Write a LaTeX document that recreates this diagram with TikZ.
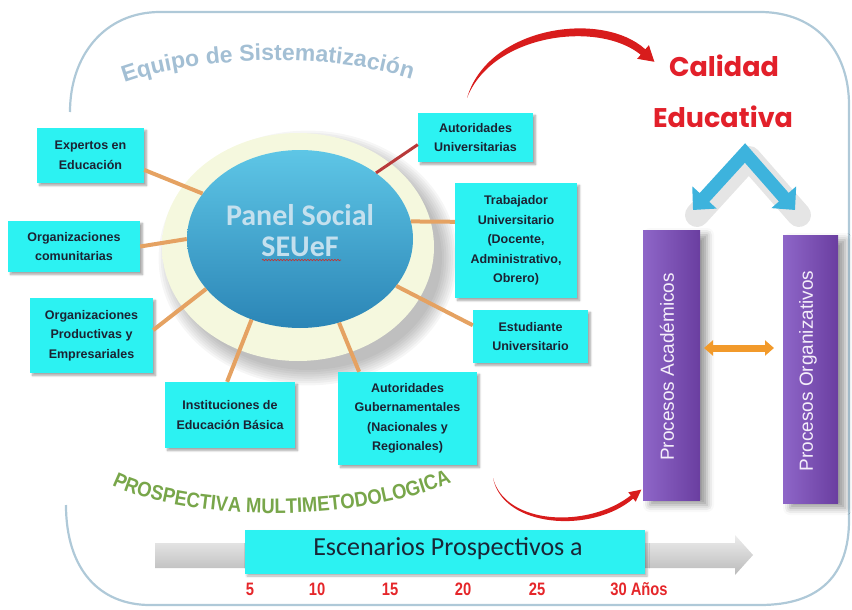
\documentclass[tikz,border=0pt]{standalone}
\usepackage{fontspec}
\setmainfont{Liberation Sans}
\newfontfamily\carl{Carlito}
\newfontfamily\popp{Poppins}
\newfontfamily\narrow[FakeStretch=0.82]{Liberation Sans}
\newfontfamily\prosp[FakeStretch=0.88]{Liberation Sans}
\usetikzlibrary{shapes.geometric,arrows.meta,shadows.blur,decorations.text,decorations.pathmorphing,calc}
\definecolor{cyanbox}{HTML}{2CF2F2}
\definecolor{boxtext}{HTML}{1C2333}
\definecolor{linkorange}{HTML}{E5A262}
\definecolor{linkred}{HTML}{B83A3A}
\definecolor{panelTop}{HTML}{5EC6E6}
\definecolor{panelBot}{HTML}{2B85B6}
\definecolor{paneltext}{HTML}{C4E0EE}
\definecolor{haloA}{HTML}{F5F8DE}
\definecolor{haloB}{HTML}{DCE7B2}
\definecolor{haloC}{HTML}{F0F3E2}
\definecolor{equipo}{HTML}{A3BFD4}
\definecolor{progreen}{HTML}{78A64A}
\definecolor{calred}{HTML}{E2202A}
\definecolor{numred}{HTML}{E5262A}
\definecolor{barL}{HTML}{8E66C8}
\definecolor{barR}{HTML}{6A3EA0}
\definecolor{bartext}{HTML}{F4EEFA}
\definecolor{chev}{HTML}{3DB3DD}
\definecolor{arrorange}{HTML}{F29A2B}
\definecolor{framecol}{HTML}{AFC9D8}
\definecolor{arcred}{HTML}{D81C1C}
\definecolor{esctext}{HTML}{1A2636}
\pgfdeclareradialshading{haloshade}{\pgfpointorigin}{color(0bp)=(haloA); color(36bp)=(haloA); color(45bp)=(haloB); color(50bp)=(haloC)}
\tikzset{
  box/.style={fill=cyanbox, font=\fontsize{12.5}{19.5}\selectfont\bfseries, text=boxtext,
    align=center, inner sep=2pt,
    blur shadow={shadow xshift=2.5pt, shadow yshift=-2.5pt, shadow opacity=35, shadow blur steps=6}},
  link/.style={draw=linkorange, line width=4pt},
  redlink/.style={draw=linkred, line width=3pt},
  bar/.style={left color=barL, right color=barR, inner sep=0pt,
    blur shadow={shadow xshift=7pt, shadow yshift=-5pt, shadow opacity=40, shadow blur radius=7pt}},
  bartxt/.style={rotate=90, text=bartext, font=\fontsize{19}{19}\selectfont},
  num/.style={text=numred, font=\narrow\bfseries\fontsize{18}{18}\selectfont},
}
\begin{document}
\begin{tikzpicture}[x=1pt,y=-1pt]
\useasboundingbox (0,0) rectangle (852,610);
% frame
\draw[framecol, line width=2.2pt] (70,112) .. controls (70,55) and (105,12) .. (160,12) -- (760,12)
  .. controls (815,12) and (849,50) .. (849,105) -- (849,520)
  .. controls (849,575) and (820,605) .. (760,605) -- (150,605)
  .. controls (100,605) and (66,570) .. (66,505);
% halo shadow and halo
\foreach \k in {0,...,7}{
  \fill[black, opacity=0.035] (308,258) ellipse [x radius={134+\k*2.2}, y radius={112+\k*2.2}];
}
\shade[shading=haloshade] (298,247) ellipse [x radius=136, y radius=114];

% title texts along paths
\path[decorate, decoration={text along path, text align=center,
  text={|\fontsize{23}{23}\selectfont\bfseries\color{equipo}|Equipo de Sistematización}}]
  (116,86) .. controls (190,56) and (330,50) .. (420,82);
\path[decorate, decoration={text along path, text align=center,
  text={|\prosp\fontsize{21}{21}\selectfont\bfseries\color{progreen}|PROSPECTIVA MULTIMETODOLOGICA}}]
  (96,476) .. controls (160,522) and (365,530) .. (468,474);

% central panel
\node[ellipse, minimum width=226pt, minimum height=178pt, top color=panelTop, bottom color=panelBot, inner sep=0pt] (panel) at (300,239) {};
\node[text=paneltext, font=\carl\bfseries\fontsize{30}{31}\selectfont, align=center] (paneltxt) at (300,231) {Panel Social\\SEUeF};
\coordinate (su1) at (262,260);
\coordinate (su2) at (341,260);
\draw[decorate, decoration={snake, amplitude=0.7pt, segment length=3pt}, draw=linkred, line width=0.7pt] (su1) -- (su2);

% boxes
\node[box, minimum width=107pt, minimum height=55pt] (exp) at (90.5,155.5) {Expertos en\\Educación};
\node[box, minimum width=132pt, minimum height=51pt] (com) at (74,246.5) {Organizaciones\\comunitarias};
\node[box, minimum width=123pt, minimum height=75pt] (prod) at (91.5,335.5) {Organizaciones\\Productivas y\\Empresariales};
\node[box, minimum width=130pt, minimum height=66pt] (inst) at (230,415) {Instituciones de\\Educación Básica};
\node[box, minimum width=139pt, minimum height=93pt] (gub) at (407.5,418.5) {Autoridades\\Gubernamentales\\(Nacionales y\\Regionales)};
\node[box, minimum width=115pt, minimum height=53pt] (est) at (530.5,336.5) {Estudiante\\Universitario};
\node[box, minimum width=122pt, minimum height=115pt] (trab) at (516,240.5) {Trabajador\\Universitario\\(Docente,\\Administrativo,\\Obrero)};
\node[box, minimum width=115pt, minimum height=49pt] (autu) at (475.5,137.5) {Autoridades\\Universitarias};

% connectors
\draw[link] (exp.-15) -- (panel.155);
\draw[link] (com.east) -- (panel.180);
\draw[link] (prod.5) -- (panel.208);
\draw[link] (inst.95) -- (panel.239);
\draw[link] (gub.136) -- (panel.295);
\draw[link] (est.169) -- (panel.334);
\draw[link] (trab.163) -- (panel.9);
\draw[redlink] (autu.187) -- (panel.41);

% Calidad Educativa
\node[text=calred, font=\popp\bfseries\fontsize{27}{27}\selectfont] (cal) at (724,66) {Calidad};
\node[text=calred, font=\popp\bfseries\fontsize{27}{27}\selectfont] (edu) at (723,117) {Educativa};

% top red arc
\coordinate (rs) at (467,98);
\coordinate (re1) at (645.3,49.3);
\coordinate (re2) at (640.7,54.7);
\coordinate (rh1) at (648.9,45.2);
\coordinate (rh2) at (637.2,58.8);
\coordinate (rt) at (654.4,61.8);
\fill[arcred] (rs) .. controls (488,26) and (602,10) .. (re1) -- (rh1) -- (rt) -- (rh2) -- (re2)
  .. controls (598,20) and (492,34) .. (rs) -- cycle;

% chevron
\coordinate (cl) at (693,210);
\coordinate (ca) at (745,153);
\coordinate (cr) at (795,210);
\draw[black, opacity=0.10, line width=24pt, line join=round, line cap=round] ($(cl)+(4,5)$) -- ($(ca)+(4,5)$) -- ($(cr)+(4,5)$);
\draw[chev, line width=13pt, line join=miter, {Triangle[length=17pt,width=32pt]}-{Triangle[length=17pt,width=32pt]}] (cl) -- (ca) -- (cr);

% bars
\node[bar, minimum width=57pt, minimum height=270pt] (acad) at (671.5,365) {};
\node[bartxt] (acadtxt) at (667,367) {Procesos Académicos};
\node[bar, minimum width=55pt, minimum height=268pt] (org) at (810.5,369) {};
\node[bartxt] (orgtxt) at (808,371) {Procesos Organizativos};
\coordinate (oa) at (704,348);
\coordinate (ob) at (774,348);
\draw[arrorange, line width=7pt, {Triangle[length=9pt,width=15pt]}-{Triangle[length=9pt,width=15pt]}] (oa) -- (ob);

% bottom red arc
\coordinate (bs) at (493,478);
\coordinate (be1) at (633.2,498.6);
\coordinate (be2) at (630.8,495.4);
\coordinate (bh1) at (635.7,501.7);
\coordinate (bh2) at (628.3,492.3);
\coordinate (bt) at (641.4,489.6);
\fill[arcred] (bs) .. controls (503,528) and (592,534) .. (be1) -- (bh1) -- (bt) -- (bh2) -- (be2)
  .. controls (588,529) and (505,525) .. (bs) -- cycle;

% gray timeline arrow
\shade[top color=black!7, bottom color=black!27] (155,543) -- (735,543) -- (735,535) -- (753,555) -- (735,575) -- (735,568) -- (155,568) -- cycle;
\node[fill=cyanbox, minimum width=400pt, minimum height=44pt, inner sep=0pt,
  blur shadow={shadow xshift=2pt, shadow yshift=-2pt, shadow opacity=30}] (esc) at (445,552) {};
\node[text=esctext, font=\carl\fontsize{26}{26}\selectfont] (esctxt) at (448,549) {Escenarios Prospectivos a};

% years
\node[num] (n5) at (250,589) {5};
\node[num] (n10) at (317,589) {10};
\node[num] (n15) at (390,589) {15};
\node[num] (n20) at (463,589) {20};
\node[num] (n25) at (537,589) {25};
\node[num] (n30) at (639,589) {30 Años};
\end{tikzpicture}
\end{document}
